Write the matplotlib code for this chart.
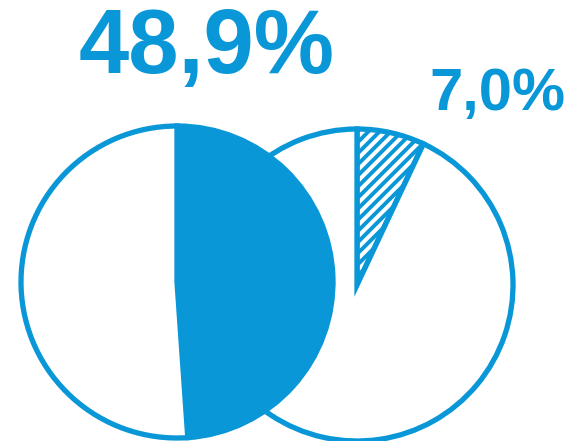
import matplotlib
matplotlib.use("Agg")
import matplotlib.pyplot as plt

# data
left_values = [48.9, 51.1]
right_values = [7.0, 93.0]
left_label = "48,9%"
right_label = "7,0%"

BLUE = "#0997d7"
W, H = 569, 441
plt.rcParams['hatch.linewidth'] = 2.8
plt.rcParams['hatch.color'] = BLUE

fig = plt.figure(figsize=(W / 100, H / 100), dpi=100)
ax = fig.add_axes([0, 0, 1, 1])

R = 156
lw = 3.8

# right pie (behind)
rw, _ = ax.pie(right_values, startangle=90, counterclock=False, center=(357, 441 - 285),
               radius=R, colors=['white', 'white'],
               wedgeprops=dict(edgecolor=BLUE, linewidth=lw), frame=True)
rw[0].set_hatch('///')
for w in rw:
    w.set_zorder(1)

# left pie (front)
lw_, _ = ax.pie(left_values, startangle=90, counterclock=False, center=(177, 441 - 282),
                radius=R, colors=[BLUE, 'white'],
                wedgeprops=dict(edgecolor=BLUE, linewidth=lw), frame=True)
for w in lw_:
    w.set_zorder(2)

ax.set_xlim(0, W)
ax.set_ylim(0, H)
ax.set_aspect('equal')
ax.axis('off')

ax.text(207, 441 - 73, left_label, ha='center', va='baseline', color=BLUE,
        fontsize=65, fontweight='bold', family='Liberation Sans')
ax.text(497, 441 - 110, right_label, ha='center', va='baseline', color=BLUE,
        fontsize=43, fontweight='bold', family='Liberation Sans')

fig.savefig('out.png', dpi=100)
